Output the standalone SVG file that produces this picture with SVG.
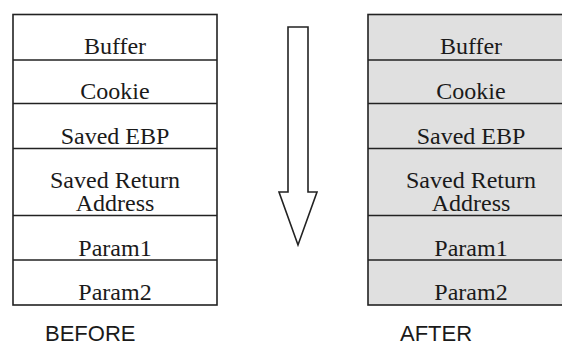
<svg xmlns="http://www.w3.org/2000/svg" width="562" height="345" viewBox="0 0 562 345">
<style>
.box{fill:#ffffff;stroke:#222;stroke-width:1.6}
.boxg{fill:#e0e0e0;stroke:#222;stroke-width:1.6}
.sep{stroke:#222;stroke-width:1.6}
.t{font-family:"Liberation Serif","DejaVu Serif",serif;font-size:24px;fill:#1a1a1a;text-anchor:middle}
.cap{font-family:"Liberation Sans",Arial,sans-serif;font-size:22px;fill:#1a1a1a}
.arrow{fill:#ffffff;stroke:#222;stroke-width:1.6;stroke-linejoin:miter}
</style>
<rect width="562" height="345" fill="#ffffff"/>
<g id="before">
<rect class="box" x="13" y="14.5" width="204" height="290.5"/>
<line class="sep" x1="13" y1="60" x2="217" y2="60"/>
<line class="sep" x1="13" y1="103.5" x2="217" y2="103.5"/>
<line class="sep" x1="13" y1="148.5" x2="217" y2="148.5"/>
<line class="sep" x1="13" y1="215.5" x2="217" y2="215.5"/>
<line class="sep" x1="13" y1="260" x2="217" y2="260"/>
<text class="t" x="115" y="53.5" font-family="Liberation Serif, DejaVu Serif, serif">Buffer</text>
<text class="t" x="115" y="98.5" font-family="Liberation Serif, DejaVu Serif, serif">Cookie</text>
<text class="t" x="115" y="143.5" font-family="Liberation Serif, DejaVu Serif, serif">Saved EBP</text>
<text class="t" x="115" y="188" font-family="Liberation Serif, DejaVu Serif, serif">Saved Return</text>
<text class="t" x="115" y="210.5" font-family="Liberation Serif, DejaVu Serif, serif">Address</text>
<text class="t" x="115" y="255.5" font-family="Liberation Serif, DejaVu Serif, serif">Param1</text>
<text class="t" x="115" y="300" font-family="Liberation Serif, DejaVu Serif, serif">Param2</text>
<text class="cap" x="45" y="341">BEFORE</text>
</g>
<g id="connectors">
<path class="arrow" d="M288,27 L308,27 L308,192 L317,192 L298,245 L279,192 L288,192 Z"/>
</g>
<g id="after">
<rect class="boxg" x="368" y="14.5" width="206" height="290.5"/>
<line class="sep" x1="368" y1="60" x2="574" y2="60"/>
<line class="sep" x1="368" y1="103.5" x2="574" y2="103.5"/>
<line class="sep" x1="368" y1="148.5" x2="574" y2="148.5"/>
<line class="sep" x1="368" y1="215.5" x2="574" y2="215.5"/>
<line class="sep" x1="368" y1="260" x2="574" y2="260"/>
<text class="t" x="471" y="53.5" font-family="Liberation Serif, DejaVu Serif, serif">Buffer</text>
<text class="t" x="471" y="98.5" font-family="Liberation Serif, DejaVu Serif, serif">Cookie</text>
<text class="t" x="471" y="143.5" font-family="Liberation Serif, DejaVu Serif, serif">Saved EBP</text>
<text class="t" x="471" y="188" font-family="Liberation Serif, DejaVu Serif, serif">Saved Return</text>
<text class="t" x="471" y="210.5" font-family="Liberation Serif, DejaVu Serif, serif">Address</text>
<text class="t" x="471" y="255.5" font-family="Liberation Serif, DejaVu Serif, serif">Param1</text>
<text class="t" x="471" y="300" font-family="Liberation Serif, DejaVu Serif, serif">Param2</text>
<text class="cap" x="400" y="341">AFTER</text>
</g>
</svg>
